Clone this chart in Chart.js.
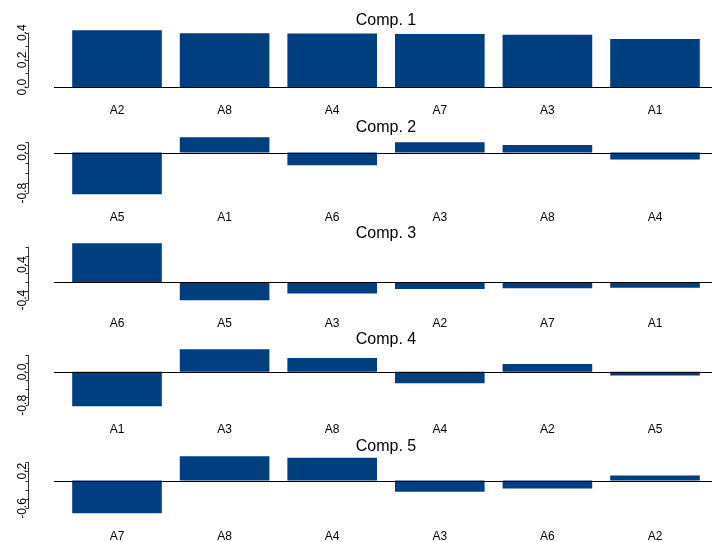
<!DOCTYPE html>
<html>
<head>
<meta charset="utf-8">
<script src="https://cdn.jsdelivr.net/npm/chart.js@4.4.1/dist/chart.umd.min.js"></script>
<style>
  body { margin: 0; background: #fff; }
  #wrap { position: relative; width: 712px; height: 542px; overflow: hidden; }
  #wrap canvas { position: absolute; left: 0; }
</style>
</head>
<body>
<div id="wrap"></div>
<script>
// loadings, one panel per component (sorted like the original)
const comp1Labels = ["A2", "A8", "A4", "A7", "A3", "A1"];
const comp1Values = [0.417, 0.395, 0.393, 0.390, 0.385, 0.353];
const comp1Ticks = [0, 0.1, 0.2, 0.3, 0.4];
const comp1TickLabels = ["0.0", "", "0.2", "", "0.4"];

const comp2Labels = ["A5", "A1", "A6", "A3", "A8", "A4"];
const comp2Values = [-0.82, 0.30, -0.25, 0.20, 0.15, -0.14];
const comp2Ticks = [-0.8, -0.6, -0.4, -0.2, 0, 0.2];
const comp2TickLabels = ["-0.8", "", "", "", "0.0", ""];

const comp3Labels = ["A6", "A5", "A3", "A2", "A7", "A1"];
const comp3Values = [0.88, -0.40, -0.25, -0.15, -0.13, -0.12];
const comp3Ticks = [-0.4, -0.2, 0, 0.2, 0.4, 0.6, 0.8];
const comp3TickLabels = ["-0.4", "", "", "", "0.4", "", ""];

const comp4Labels = ["A1", "A3", "A8", "A4", "A2", "A5"];
const comp4Values = [-0.82, 0.54, 0.33, -0.27, 0.19, -0.09];
const comp4Ticks = [-0.8, -0.6, -0.4, -0.2, 0, 0.2, 0.4];
const comp4TickLabels = ["-0.8", "", "", "", "0.0", "", ""];

const comp5Labels = ["A7", "A8", "A4", "A3", "A6", "A2"];
const comp5Values = [-0.70, 0.52, 0.49, -0.24, -0.17, 0.11];
const comp5Ticks = [-0.6, -0.4, -0.2, 0, 0.2, 0.4];
const comp5TickLabels = ["-0.6", "", "", "", "0.2", ""];

const titles = ["Comp. 1", "Comp. 2", "Comp. 3", "Comp. 4", "Comp. 5"];

const panels = [
  { labels: comp1Labels, values: comp1Values, ticks: comp1Ticks, tickLabels: comp1TickLabels },
  { labels: comp2Labels, values: comp2Values, ticks: comp2Ticks, tickLabels: comp2TickLabels },
  { labels: comp3Labels, values: comp3Values, ticks: comp3Ticks, tickLabels: comp3TickLabels },
  { labels: comp4Labels, values: comp4Values, ticks: comp4Ticks, tickLabels: comp4TickLabels },
  { labels: comp5Labels, values: comp5Values, ticks: comp5Ticks, tickLabels: comp5TickLabels }
];

// layout (px)
const plotTops = [27.7, 135, 241, 347.3, 453.7];
const plotH = 61.4;
const padTop = 28, canvasH = 122;
const barColor = "#003f7f";
const fontFam = "'Liberation Sans', Arial, Helvetica, sans-serif";

// R-style axes, base line, labels and title
const rStyle = {
  id: "rStyle",
  afterDatasetsDraw(chart, args, opts) {
    const ctx = chart.ctx;
    const x = chart.scales.x, y = chart.scales.y;
    const area = chart.chartArea;
    ctx.save();

    // abline(h = 0)
    const y0 = Math.round(y.getPixelForValue(0)) + 0.5;
    ctx.strokeStyle = "#000";
    ctx.lineWidth = 1;
    ctx.beginPath();
    ctx.moveTo(54, y0);
    ctx.lineTo(712, y0);
    ctx.stroke();

    // y axis
    const axX = 28.5;
    const tp = opts.ticks.map(v => y.getPixelForValue(v));
    ctx.strokeStyle = "#333";
    ctx.beginPath();
    ctx.moveTo(axX, Math.min(...tp));
    ctx.lineTo(axX, Math.max(...tp));
    tp.forEach(p => { ctx.moveTo(axX, Math.round(p) + 0.5); ctx.lineTo(axX - 3, Math.round(p) + 0.5); });
    ctx.stroke();

    ctx.fillStyle = "#000";
    ctx.font = "12px " + fontFam;
    ctx.textAlign = "center";
    ctx.textBaseline = "alphabetic";
    opts.tickLabels.forEach((t, i) => {
      if (!t) return;
      ctx.save();
      ctx.translate(26, tp[i]);
      ctx.rotate(-Math.PI / 2);
      ctx.fillText(t, 0, 0);
      ctx.restore();
    });

    // category names under the plot
    ctx.textBaseline = "middle";
    chart.data.labels.forEach((lab, i) => {
      ctx.fillText(lab, x.getPixelForValue(i), area.bottom + 21.5);
    });

    // title
    ctx.font = "16px " + fontFam;
    ctx.textBaseline = "alphabetic";
    ctx.fillText(opts.title, (area.left + area.right) / 2, area.top - 3);
    ctx.restore();
  }
};

const wrap = document.getElementById("wrap");
const charts = [];

panels.forEach((p, k) => {
  const cv = document.createElement("canvas");
  cv.width = 712;
  cv.height = canvasH;
  cv.style.top = (plotTops[k] - padTop) + "px";
  wrap.appendChild(cv);

  const lo = Math.min(0, ...p.values), hi = Math.max(0, ...p.values);
  const ext = 0.04 * (hi - lo);

  charts.push(new Chart(cv.getContext("2d"), {
    type: "bar",
    data: {
      labels: p.labels,
      datasets: [{
        data: p.values,
        backgroundColor: barColor,
        borderWidth: 0,
        barPercentage: 0.833,
        categoryPercentage: 1.0
      }]
    },
    options: {
      responsive: false,
      animation: false,
      devicePixelRatio: 1,
      layout: { padding: { left: 63.2, right: 3.2, top: padTop, bottom: canvasH - padTop - plotH } },
      plugins: {
        legend: { display: false },
        tooltip: { enabled: false },
        rStyle: { title: titles[k], ticks: p.ticks, tickLabels: p.tickLabels }
      },
      scales: {
        x: { display: false, offset: true, grid: { display: false } },
        y: { display: false, min: lo - ext, max: hi + ext }
      }
    },
    plugins: [rStyle]
  }));
});
</script>
</body>
</html>
